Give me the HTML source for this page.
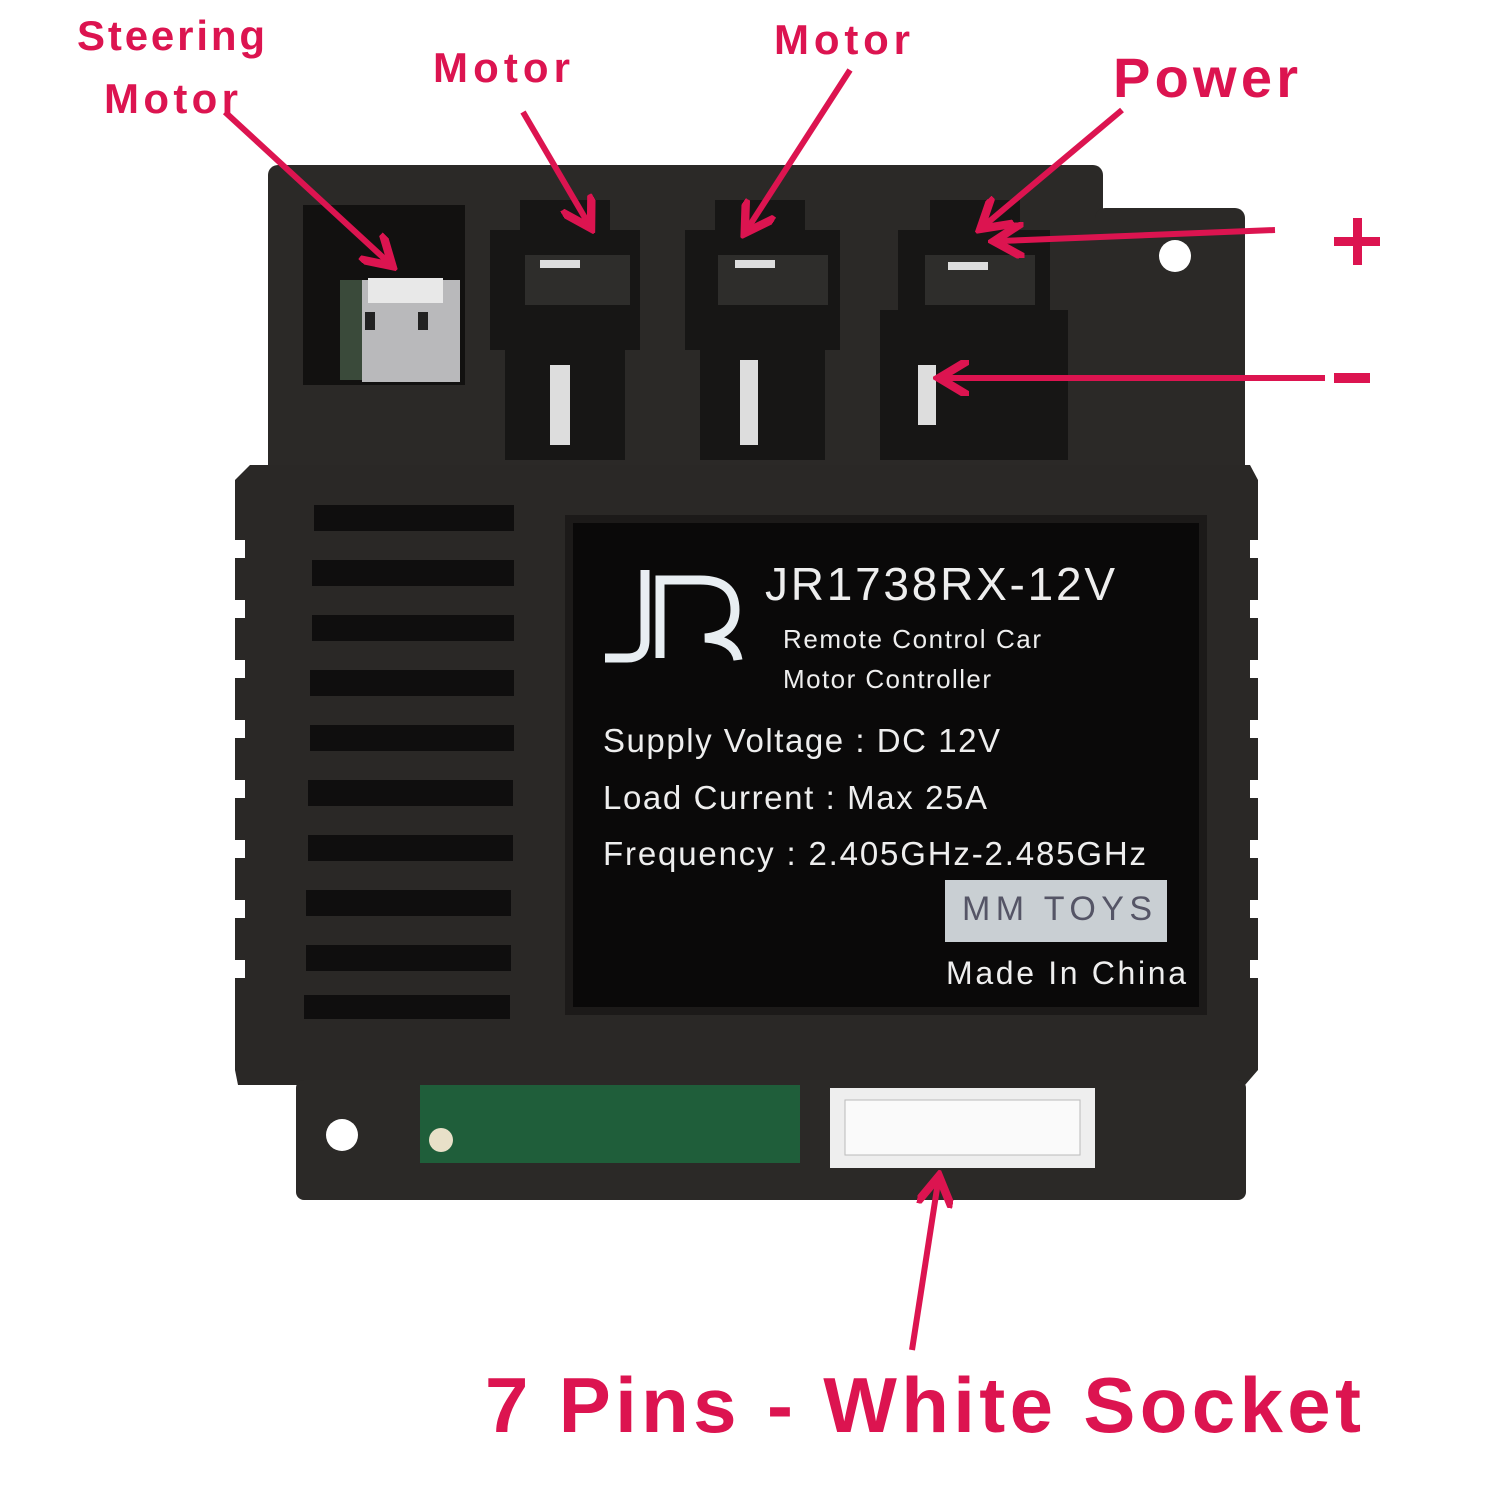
<!DOCTYPE html>
<html><head><meta charset="utf-8"><style>
html,body{margin:0;padding:0;background:#fff}
svg{display:block}
text{font-family:"Liberation Sans",sans-serif}
</style></head><body>
<svg width="1500" height="1500" viewBox="0 0 1500 1500" xmlns="http://www.w3.org/2000/svg">
<defs>
<marker id="ah" markerWidth="6" markerHeight="6" refX="4" refY="3" orient="auto" markerUnits="strokeWidth">
<path d="M0,0 L5,3 L0,6" fill="none" stroke="#dc1450" stroke-width="1.4"/></marker>
</defs>
<rect width="1500" height="1500" fill="#fff"/>
<rect x="268" y="165" width="835" height="310" rx="10" fill="#2b2927"/>
<rect x="1095" y="208" width="150" height="267" rx="10" fill="#2b2927"/>
<circle cx="1175" cy="256" r="16" fill="#fff"/>
<rect x="303" y="205" width="162" height="180" fill="#121110"/>
<rect x="340" y="280" width="25" height="100" fill="#3a4a3a"/>
<rect x="362" y="280" width="98" height="102" fill="#b9b9bb"/>
<rect x="368" y="278" width="75" height="25" fill="#e8e8e8"/>
<rect x="365" y="312" width="10" height="18" fill="#222"/><rect x="418" y="312" width="10" height="18" fill="#222"/>
<g fill="#171615">
<path d="M490 230 H520 V200 H610 V230 H640 V350 H625 V460 H505 V350 H490Z"/>
<path d="M685 230 H715 V200 H805 V230 H840 V350 H825 V460 H700 V350 H685Z"/>
<path d="M898 230 H930 V200 H1020 V230 H1050 V310 H1068 V460 H880 V310 H898Z"/>
</g>
<g fill="#2e2d2b">
<rect x="525" y="255" width="105" height="50"/><rect x="718" y="255" width="110" height="50"/><rect x="925" y="255" width="110" height="50"/>
</g>
<g fill="#ddd"><rect x="540" y="260" width="40" height="8"/><rect x="735" y="260" width="40" height="8"/><rect x="948" y="262" width="40" height="8"/>
<rect x="550" y="365" width="20" height="80"/><rect x="740" y="360" width="18" height="85"/><rect x="918" y="365" width="18" height="60"/></g>
<path d="M250 465 H1250 L1258 480 V1070 L1245 1085 H238 L235 1070 V480Z" fill="#2a2826"/>
<g fill="#0f0e0e">
<rect x="314" y="505" width="200" height="26"/><rect x="312" y="560" width="202" height="26"/>
<rect x="312" y="615" width="202" height="26"/><rect x="310" y="670" width="204" height="26"/>
<rect x="310" y="725" width="204" height="26"/><rect x="308" y="780" width="205" height="26"/>
<rect x="308" y="835" width="205" height="26"/><rect x="306" y="890" width="205" height="26"/>
<rect x="306" y="945" width="205" height="26"/><rect x="304" y="995" width="206" height="24"/>
</g>
<g fill="#fff">
<rect x="235" y="540" width="10" height="18"/><rect x="235" y="600" width="10" height="18"/><rect x="235" y="660" width="10" height="18"/><rect x="235" y="720" width="10" height="18"/><rect x="235" y="780" width="10" height="18"/><rect x="235" y="840" width="10" height="18"/><rect x="235" y="900" width="10" height="18"/><rect x="235" y="960" width="10" height="18"/>
<rect x="1250" y="540" width="10" height="18"/><rect x="1250" y="600" width="10" height="18"/><rect x="1250" y="660" width="10" height="18"/><rect x="1250" y="720" width="10" height="18"/><rect x="1250" y="780" width="10" height="18"/><rect x="1250" y="840" width="10" height="18"/><rect x="1250" y="900" width="10" height="18"/><rect x="1250" y="960" width="10" height="18"/>
</g>
<rect x="565" y="515" width="642" height="500" fill="#1c1a19"/>
<rect x="573" y="523" width="626" height="484" fill="#0a0909"/>
<g fill="none" stroke="#e8eef2" stroke-width="9">
<path d="M645 570 V640 Q645 658 627 658 H605"/>
<path d="M660 658 V580 H700 Q735 580 735 610 Q735 635 705 638 Q735 640 738 660"/>
</g>
<text x="765" y="600" font-size="46" fill="#eee" textLength="350">JR1738RX-12V</text>
<text x="783" y="648" font-size="26" fill="#eee" textLength="258">Remote Control Car</text>
<text x="783" y="688" font-size="26" fill="#eee" textLength="208">Motor Controller</text>
<text x="603" y="752" font-size="33" fill="#eee" textLength="397">Supply Voltage : DC 12V</text>
<text x="603" y="809" font-size="33" fill="#eee" textLength="384">Load Current : Max 25A</text>
<text x="603" y="865" font-size="33" fill="#eee" textLength="543">Frequency : 2.405GHz-2.485GHz</text>
<rect x="945" y="880" width="222" height="62" fill="#c9cfd3"/>
<text x="962" y="920" font-size="34" fill="#556" textLength="190">MM TOYS</text>
<text x="946" y="984" font-size="32" fill="#eee" textLength="240">Made In China</text>
<rect x="296" y="1080" width="950" height="120" rx="8" fill="#2b2927"/>
<circle cx="342" cy="1135" r="16" fill="#fff"/>
<rect x="420" y="1085" width="380" height="78" fill="#1f5e3a"/>
<circle cx="441" cy="1140" r="12" fill="#e8e0c8"/>
<rect x="830" y="1088" width="265" height="80" fill="#eeeeee"/>
<rect x="845" y="1100" width="235" height="55" fill="#fafafa" stroke="#bbb"/>
<g stroke="#dc1450" stroke-width="6" fill="none" marker-end="url(#ah)">
<line x1="225" y1="112" x2="388" y2="262"/>
<line x1="523" y1="112" x2="588" y2="223"/>
<line x1="850" y1="70" x2="748" y2="228"/>
<line x1="1122" y1="110" x2="985" y2="225"/>
<line x1="1275" y1="230" x2="1000" y2="241"/>
<line x1="1325" y1="378" x2="945" y2="378"/>
<line x1="912" y1="1350" x2="938" y2="1182"/>
</g>
<g fill="#dc1450" font-weight="bold">
<text x="77" y="50" font-size="42" textLength="188">Steering</text>
<text x="104" y="113" font-size="42" textLength="134">Motor</text>
<text x="433" y="82" font-size="42" textLength="137">Motor</text>
<text x="774" y="54" font-size="42" textLength="136">Motor</text>
<text x="1113" y="97" font-size="56" textLength="185">Power</text>
<rect x="1334" y="237" width="46" height="9"/>
<rect x="1353" y="218" width="9" height="47"/>
<rect x="1334" y="373" width="36" height="10"/>
<text x="485" y="1432" font-size="78" textLength="876">7 Pins - White Socket</text>
</g>
</svg>
</body></html>
